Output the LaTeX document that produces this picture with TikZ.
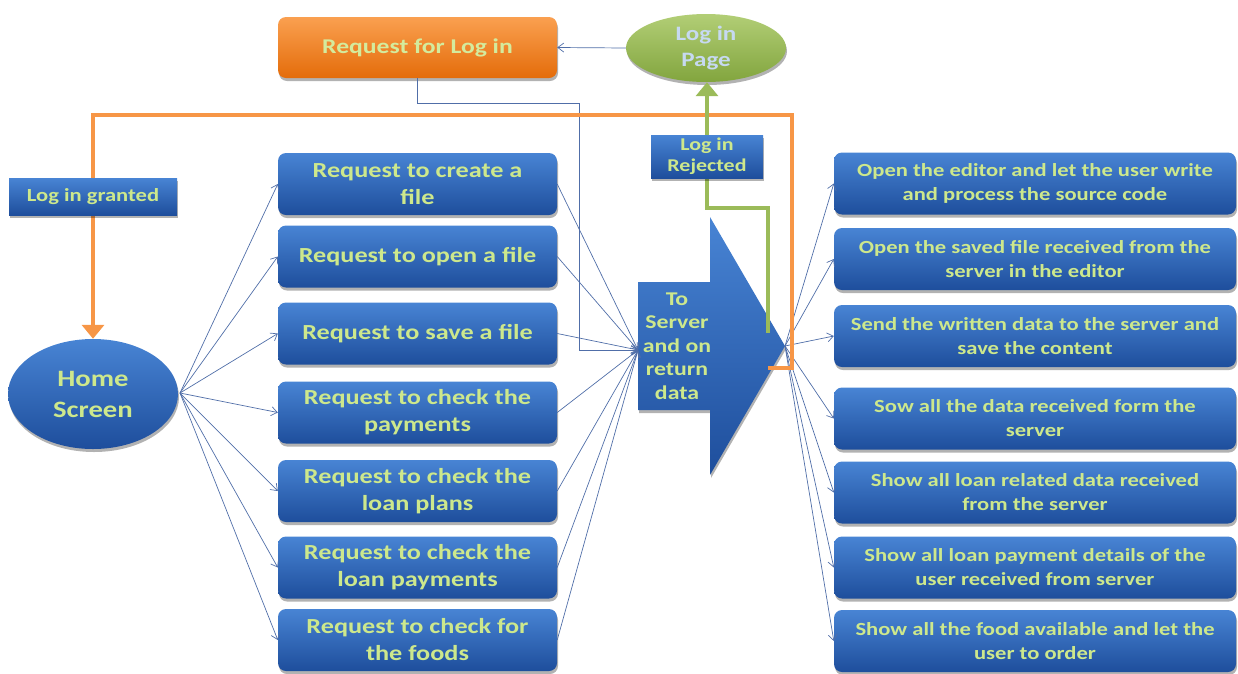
\documentclass[tikz,border=0pt]{standalone}
\usepackage{fontspec}
\setmainfont{Carlito}[FakeStretch=1.22]
\usetikzlibrary{arrows.meta,shadows,shapes.geometric}

\definecolor{boxtop}{RGB}{72,132,212}
\definecolor{boxbot}{RGB}{30,78,156}
\definecolor{txtg}{RGB}{205,232,140}
\definecolor{ortop}{RGB}{250,160,80}
\definecolor{orbot}{RGB}{228,108,10}
\definecolor{orline}{RGB}{247,150,70}
\definecolor{grtop}{RGB}{178,206,118}
\definecolor{grbot}{RGB}{130,165,62}
\definecolor{grline}{RGB}{155,187,89}
\definecolor{ltblue}{RGB}{198,217,241}
\definecolor{conncol}{RGB}{80,110,168}

\begin{document}
\begin{tikzpicture}[x=1pt,y=-1pt,
  shad/.style={drop shadow={shadow xshift=1pt,shadow yshift=-3pt,opacity=0.3,fill=black}},
  bluefill/.style={top color=boxtop,bottom color=boxbot,draw=none},
  lbox/.style={bluefill,shad,rectangle,rounded corners=8pt,minimum width=279pt,minimum height=62pt,
    text=txtg,align=center,inner sep=2pt,font=\bfseries\fontsize{21.5}{27}\selectfont},
  rbox/.style={bluefill,shad,rectangle,rounded corners=8pt,minimum width=402pt,minimum height=62pt,
    text=txtg,align=center,inner sep=2pt,font=\bfseries\fontsize{18.5}{24}\selectfont},
  lbl/.style={bluefill,shad,rectangle,text=txtg,align=center,inner sep=2pt},
  conn/.style={draw=conncol,line width=0.7pt,-{Straight Barb[length=6pt,width=9pt]}},
  thick orange/.style={draw=orline,line width=4.5pt},
  thick green/.style={draw=grline,line width=4.5pt}
]
\useasboundingbox (0,0) rectangle (1238,673);

% top nodes
\node[shad,rectangle,rounded corners=8pt,top color=ortop,bottom color=orbot,draw=none,
  minimum width=279pt,minimum height=61pt,text=txtg!85!white,
  font=\bfseries\fontsize{21}{25}\selectfont] (req) at (417.5,47.5) {Request for Log in};
\node[shad,ellipse,top color=grtop,bottom color=grbot,draw=none,minimum width=160pt,minimum height=68pt,
  inner sep=0pt,text=ltblue,align=center,font=\bfseries\fontsize{20.5}{26}\selectfont] (login) at (706,48) {Log in\\Page};

% home
\node[shad,ellipse,bluefill,minimum width=170pt,minimum height=110pt,inner sep=0pt,text=txtg,align=center,
  font=\bfseries\fontsize{23.5}{31}\selectfont] (home) at (93,394) {Home\\Screen};

% left boxes
\node[lbox] (L1) at (417.5,184) {Request to create a\\file};
\node[lbox] (L2) at (417.5,256.5) {Request to open a file};
\node[lbox] (L3) at (417.5,333.5) {Request to save a file};
\node[lbox] (L4) at (417.5,412.5) {Request to check the\\payments};
\node[lbox] (L5) at (417.5,491) {Request to check the\\loan plans};
\node[lbox] (L6) at (417.5,567.5) {Request to check the\\loan payments};
\node[lbox] (L7) at (417.5,640) {Request to check for\\the foods};

% right boxes
\node[rbox] (R1) at (1035,183.5) {Open the editor and let the user write\\and process the source code};
\node[rbox] (R2) at (1035,259) {Open the saved file received from the\\server in the editor};
\node[rbox] (R3) at (1035,336) {Send the written data to the server and\\save the content};
\node[rbox] (R4) at (1035,418.5) {Sow all the data received form the\\server};
\node[rbox] (R5) at (1035,492.5) {Show all loan related data received\\from the server};
\node[rbox] (R6) at (1035,567.5) {Show all loan payment details of the\\user received from server};
\node[rbox] (R7) at (1035,641) {Show all the food available and let the\\user to order};

% big server arrow
\path[bluefill,shad] (638,282) -- (710,282) -- (710,217) -- (785,346) -- (710,475) -- (710,410) -- (638,410) -- cycle;
\node[text=txtg,align=center,font=\bfseries\fontsize{19.5}{23.5}\selectfont] (srv) at (677,346) {To\\Server\\and on\\return\\data};
\coordinate (srvin) at (638,350);
\coordinate (srvout) at (785,346);
\coordinate (hs) at (180,393);

% connectors home -> left boxes
\foreach \n in {L1,L2,L3,L4,L5,L6,L7} \draw[conn] (hs) -- (\n.west);
% left boxes -> server
\foreach \n in {L1,L2,L3,L4,L5,L6,L7} \draw[conn] (\n.east) -- (srvin);
% server -> right boxes
\foreach \n in {R1,R2,R3,R4,R5,R6,R7} \draw[conn] (srvout) -- (\n.west);

% login page -> request for log in
\draw[conn] (login.west) -- (req.east);
% request for log in -> server
\coordinate (b1) at (579,103);
\draw[conn] (req.south) |- (b1) |- (srvin);

% orange: log in granted
\coordinate (o1) at (768,368);
\coordinate (o2) at (792,115);
\draw[thick orange,-{Triangle[length=14pt,width=22pt]}] (o1) -| (o2) -| (home.north);
\node[lbl,minimum width=168pt,minimum height=37pt,font=\bfseries\fontsize{18.5}{22}\selectfont] (granted) at (93,196.5) {Log in granted};

% green: log in rejected
\coordinate (g1) at (768,333);
\coordinate (g2) at (707,208);
\draw[thick green,-{Triangle[length=14pt,width=22pt]}] (g1) |- (g2) -- (login.south -| g2);
\node[lbl,minimum width=112pt,minimum height=43pt,font=\bfseries\fontsize{18}{21}\selectfont] (rejected) at (707,156.5) {Log in\\Rejected};
\end{tikzpicture}
\end{document}
